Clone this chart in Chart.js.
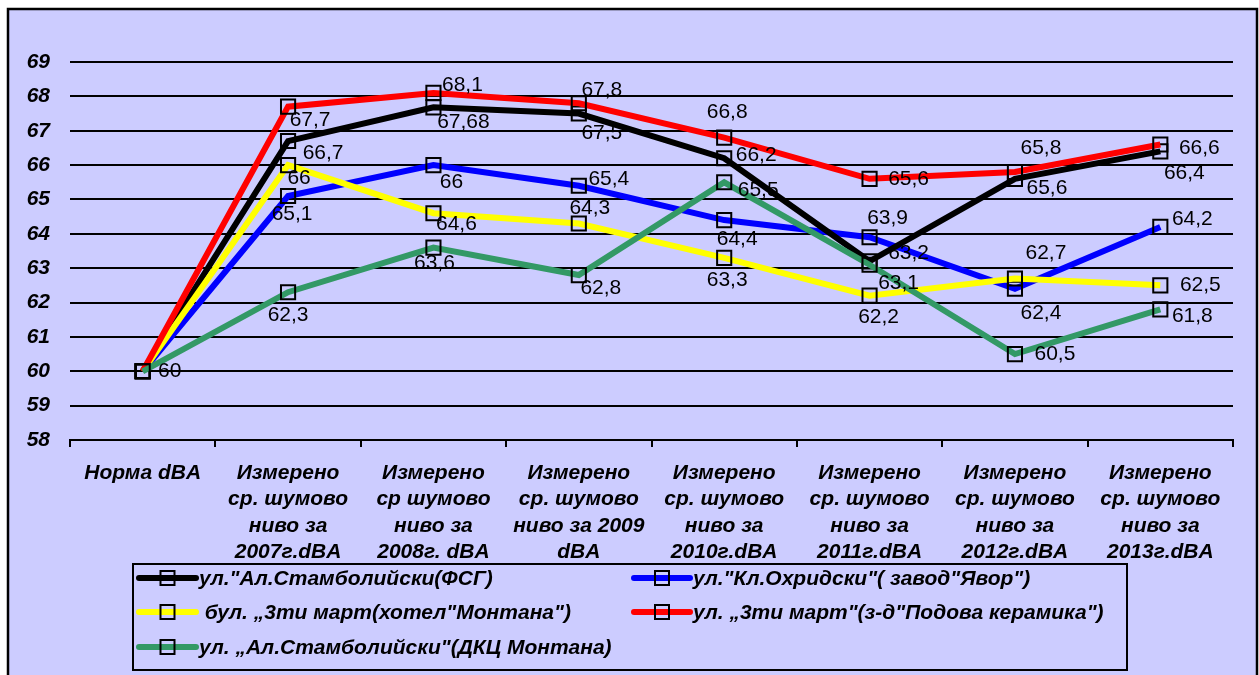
<!DOCTYPE html>
<html>
<head>
<meta charset="utf-8">
<script src="https://cdn.jsdelivr.net/npm/chart.js@4"></script>
<style>
  html, body { margin: 0; padding: 0; background: #fff; }
  #wrap { width: 1259px; height: 675px; }
</style>
</head>
<body>
<div id="wrap"><canvas id="noiseChart" width="1259" height="675"></canvas></div>
<script>
// categories (x axis), multi-line like the original
const categories = [
  ["Норма dBA"],
  ["Измерено", "ср. шумово", "ниво за", "2007г.dBA"],
  ["Измерено", "ср шумово", "ниво за", "2008г. dBA"],
  ["Измерено", "ср. шумово", "ниво за 2009", "dBA"],
  ["Измерено", "ср. шумово", "ниво за", "2010г.dBA"],
  ["Измерено", "ср. шумово", "ниво за", "2011г.dBA"],
  ["Измерено", "ср. шумово", "ниво за", "2012г.dBA"],
  ["Измерено", "ср. шумово", "ниво за", "2013г.dBA"]
];

const seriesNames = [
  "ул.\"Ал.Стамболийски(ФСГ)",
  "ул.\"Кл.Охридски\"( завод\"Явор\")",
  " бул. „3ти март(хотел\"Монтана\")",
  "ул. „3ти март\"(з-д\"Подова керамика\")",
  "ул. „Ал.Стамболийски\"(ДКЦ Монтана)"
];

// series values, dBA
const fsg      = [60, 66.7, 67.68, 67.5, 66.2, 63.2, 65.6, 66.4];
const ohridski = [60, 65.1, 66, 65.4, 64.4, 63.9, 62.4, 64.2];
const hotel    = [60, 66, 64.6, 64.3, 63.3, 62.2, 62.7, 62.5];
const keramika = [60, 67.7, 68.1, 67.8, 66.8, 65.6, 65.8, 66.6];
const dkc      = [60, 62.3, 63.6, 62.8, 65.5, 63.1, 60.5, 61.8];

// y axis range
const yMin = 58;
const yMax = 69;
const yStep = 1;

const colors = ["#000000", "#0000ff", "#ffff00", "#ff0000", "#339966"];
const drawOrder = [4, 5, 3, 2, 1]; // lower = on top

// where each value label sits relative to its point (null = no label)
const labelShift = [
  [[27, 0], [35, 12], [30, 15], [23, 20], [32, -3], [39, -8], [32, 9], [24, 22]],
  [null, [4, 18], [18, 17], [30, -7], [13, 19], [18, -19], [26, 24], [32, -8]],
  [null, [11, 13], [23, 11], [11, -15], [3, 22], [9, 22], [31, -25], [40, 0]],
  [null, [22, 14], [29, -8], [23, -13], [3, -25], [39, 0], [26, -24], [39, 4]],
  [null, [0, 23], [1, 16], [22, 13], [34, 8], [29, 18], [40, 0], [32, 7]]
];

const FONT = '"Liberation Sans", Arial, sans-serif';

// frame + background
const framePlugin = {
  id: "frame",
  beforeDraw(chart) {
    const ctx = chart.ctx;
    ctx.save();
    ctx.fillStyle = "#ffffff";
    ctx.fillRect(0, 0, chart.width, chart.height);
    ctx.fillStyle = "#ccccff";
    ctx.fillRect(8, 9, 1249, 700);
    ctx.strokeStyle = "#000";
    ctx.lineWidth = 2.5;
    ctx.strokeRect(8, 9, 1249, 700);
    ctx.restore();
  }
};

// value labels with comma decimals
const valueLabels = {
  id: "valueLabels",
  afterDatasetsDraw(chart) {
    const ctx = chart.ctx;
    ctx.save();
    ctx.font = "21px " + FONT;
    ctx.fillStyle = "#000";
    ctx.textAlign = "center";
    ctx.textBaseline = "middle";
    chart.data.datasets.forEach((ds, i) => {
      const meta = chart.getDatasetMeta(i);
      meta.data.forEach((pt, j) => {
        const sh = labelShift[i][j];
        if (!sh) return;
        const txt = String(ds.data[j]).replace(".", ",");
        ctx.fillText(txt, pt.x + sh[0], pt.y + sh[1]);
      });
    });
    ctx.restore();
  }
};

// legend box like the original
const legendBox = {
  id: "legendBox",
  afterDraw(chart) {
    const ctx = chart.ctx;
    ctx.save();
    ctx.strokeStyle = "#000";
    ctx.lineWidth = 2;
    ctx.strokeRect(133, 564, 994, 106);
    const cols = [{ x0: 139, x1: 196, tx: 199 }, { x0: 634, x1: 690, tx: 693 }];
    const rows = [578, 612, 647];
    ctx.font = "italic bold 21px " + FONT;
    ctx.textBaseline = "middle";
    ctx.textAlign = "left";
    chart.data.datasets.forEach((ds, i) => {
      const c = cols[i % 2];
      const y = rows[Math.floor(i / 2)];
      ctx.strokeStyle = ds.borderColor;
      ctx.lineWidth = 6;
      ctx.lineCap = "round";
      ctx.beginPath();
      ctx.moveTo(c.x0, y);
      ctx.lineTo(c.x1, y);
      ctx.stroke();
      ctx.strokeStyle = "#000";
      ctx.lineWidth = 2;
      const m = (c.x0 + c.x1) / 2;
      ctx.strokeRect(m - 7, y - 7, 14, 14);
      ctx.fillStyle = "#000";
      ctx.fillText(ds.label, c.tx, y + 1);
    });
    ctx.restore();
  }
};

const seriesData = [fsg, ohridski, hotel, keramika, dkc];

new Chart(document.getElementById("noiseChart"), {
  type: "line",
  data: {
    labels: categories,
    datasets: seriesData.map((vals, i) => ({
      label: seriesNames[i],
      data: vals,
      borderColor: colors[i],
      backgroundColor: colors[i],
      borderWidth: 6,
      tension: 0,
      order: drawOrder[i],
      pointStyle: "rect",
      pointRadius: 10,
      pointBorderColor: "#000",
      pointBorderWidth: 2,
      pointBackgroundColor: "rgba(0,0,0,0)"
    }))
  },
  options: {
    responsive: false,
    animation: false,
    layout: { padding: { top: 62, right: 26, left: 0, bottom: 0 } },
    plugins: {
      legend: { display: false },
      tooltip: { enabled: false }
    },
    scales: {
      x: {
        offset: true,
        grid: { offset: true, drawOnChartArea: false, color: "#000", lineWidth: 2, tickLength: 7 },
        border: { color: "#000", width: 2 },
        ticks: {
          color: "#000",
          font: { family: FONT, size: 21, weight: "bold", style: "italic", lineHeight: 1.26 },
          padding: 13,
          maxRotation: 0,
          autoSkip: false
        },
        afterFit(scale) { scale.height = 235; }
      },
      y: {
        min: yMin,
        max: yMax,
        ticks: {
          stepSize: yStep,
          color: "#000",
          font: { family: FONT, size: 21, weight: "bold", style: "italic" },
          padding: 20
        },
        grid: { color: "#000", lineWidth: 2, drawTicks: false },
        border: { display: false },
        afterFit(scale) { scale.width = 70; }
      }
    }
  },
  plugins: [framePlugin, valueLabels, legendBox]
});
</script>
</body>
</html>
